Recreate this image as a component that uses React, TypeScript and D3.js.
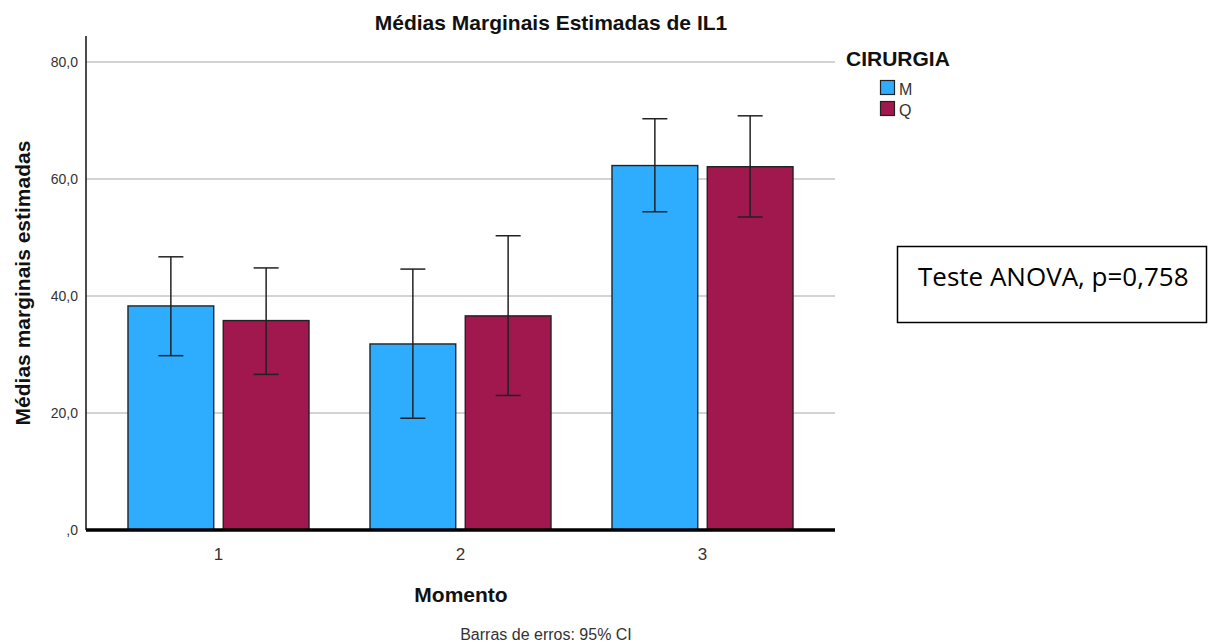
import React from 'react';
import * as d3 from 'd3';

// dados
const momentos = ['1', '2', '3'];
const grupos = ['M', 'Q'];
const mediasM = [38.3, 31.8, 62.3];
const mediasQ = [35.8, 36.6, 62.1];
const icInfM = [29.8, 19.1, 54.4];
const icSupM = [46.7, 44.6, 70.3];
const icInfQ = [26.6, 23.0, 53.5];
const icSupQ = [44.8, 50.3, 70.8];
const yTicks = [0, 20, 40, 60, 80];

const cores: Record<string, string> = { M: '#2EADFF', Q: '#A0184E' };

const W = 1208;
const H = 643;
const left = 86;
const right = 835;
const top = 36;
const base = 530;

const fmt = (v: number) => (v === 0 ? ',0' : v.toFixed(1).replace('.', ','));

export default function App() {
  const x0 = d3.scaleBand<string>().domain(momentos).range([left, right]).paddingInner(0.252).paddingOuter(0.1735);
  const x1 = d3.scaleBand<string>().domain(grupos).range([0, x0.bandwidth()]).paddingInner(0.1);
  const y = d3.scaleLinear().domain([0, 80]).range([base, 62]);

  const series = [
    { g: 'M', mean: mediasM, lo: icInfM, hi: icSupM },
    { g: 'Q', mean: mediasQ, lo: icInfQ, hi: icSupQ },
  ];
  const capW = 25;
  const font = 'Arial, "Liberation Sans", sans-serif';

  return (
    <div style={{ position: 'absolute', left: 0, top: 0 }}>
      <svg width={W} height={H} style={{ display: 'block', background: '#fff' }} fontFamily={font}>
        <text x={551} y={30} textAnchor="middle" fontSize={21} fontWeight="bold" fill="#111">
          Médias Marginais Estimadas de IL1
        </text>

        {/* grade */}
        {yTicks.filter(t => t > 0).map(t => (
          <line key={t} x1={left} x2={right} y1={y(t)} y2={y(t)} stroke="#c4c4c4" strokeWidth={1.3} />
        ))}
        {yTicks.map(t => (
          <text key={'l' + t} x={78} y={y(t) + 5} textAnchor="end" fontSize={14} fill="#333">
            {fmt(t)}
          </text>
        ))}

        {/* barras */}
        {series.map(s =>
          momentos.map((m, i) => {
            const bx = (x0(m) ?? 0) + (x1(s.g) ?? 0);
            const bw = x1.bandwidth();
            const cx = bx + bw / 2;
            return (
              <g key={s.g + m}>
                <rect x={bx} y={y(s.mean[i])} width={bw} height={base - y(s.mean[i])}
                  fill={cores[s.g]} stroke="#222" strokeWidth={1.4} />
                <line x1={cx} x2={cx} y1={y(s.hi[i])} y2={y(s.lo[i])} stroke="#222" strokeWidth={1.5} />
                <line x1={cx - capW / 2} x2={cx + capW / 2} y1={y(s.hi[i])} y2={y(s.hi[i])} stroke="#222" strokeWidth={1.5} />
                <line x1={cx - capW / 2} x2={cx + capW / 2} y1={y(s.lo[i])} y2={y(s.lo[i])} stroke="#222" strokeWidth={1.5} />
              </g>
            );
          })
        )}

        {/* eixos */}
        <line x1={left} x2={left} y1={top} y2={base} stroke="#111" strokeWidth={1.5} />
        <line x1={left} x2={right} y1={base} y2={base} stroke="#000" strokeWidth={3.5} />

        {momentos.map(m => (
          <text key={m} x={(x0(m) ?? 0) + x0.bandwidth() / 2} y={560} textAnchor="middle" fontSize={17} fill="#333">
            {m}
          </text>
        ))}

        <text x={461} y={602} textAnchor="middle" fontSize={21} fontWeight="bold" fill="#111">Momento</text>
        <text x={546} y={640} textAnchor="middle" fontSize={16} fill="#333">Barras de erros: 95% CI</text>

        <text transform={`translate(30,283) rotate(-90)`} textAnchor="middle" fontSize={21} fontWeight="bold" fill="#111">
          Médias marginais estimadas
        </text>

        {/* legenda */}
        <text x={846} y={66} fontSize={21} fontWeight="bold" fill="#111">CIRURGIA</text>
        {grupos.map((g, i) => (
          <g key={g} transform={`translate(880,${80 + i * 21})`}>
            <rect x={0.5} y={0.5} width={14} height={14} fill={cores[g]} stroke="#222" strokeWidth={1.2} />
            <text x={19} y={15} fontSize={16} fill="#333">{g}</text>
          </g>
        ))}

        {/* anotação */}
        <rect x={897.5} y={246.5} width={309} height={76} fill="#fff" stroke="#000" strokeWidth={1.5} />
        <text x={918} y={286} fontSize={26} fontFamily='"Open Sans", "Noto Sans", sans-serif' fill="#000">
          Teste ANOVA, p=0,758
        </text>
      </svg>
    </div>
  );
}
